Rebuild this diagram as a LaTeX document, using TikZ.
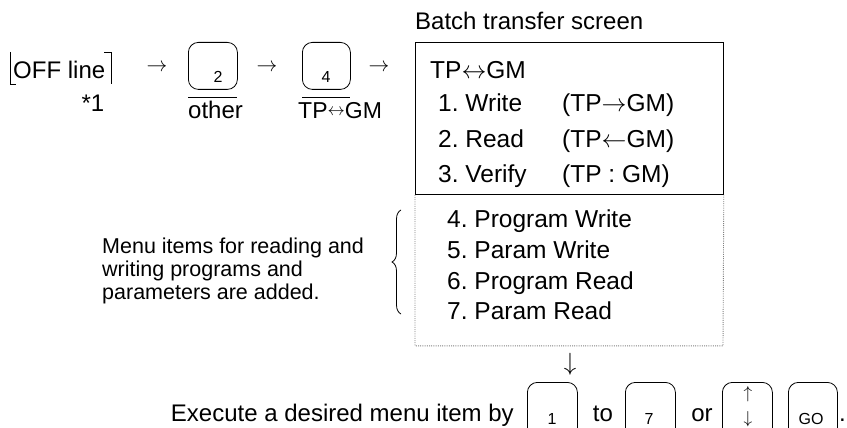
\documentclass[tikz,border=0pt]{standalone}
\usepackage{fontspec}
\setmainfont{Liberation Sans}
\usetikzlibrary{decorations.pathreplacing}
\newcommand{\smlr}{\raisebox{2.5pt}{\fontsize{16}{16}\selectfont$\leftrightarrow$}}
\begin{document}
\frenchspacing
\begin{tikzpicture}[x=1pt,y=-1pt,
  txt/.style={font=\fontsize{24}{28}\selectfont, inner sep=0pt},
  boxtxt/.style={font=\fontsize{24.5}{28}\selectfont, inner sep=0pt, anchor=base west},
  desc/.style={font=\fontsize{21.5}{24}\selectfont, inner sep=0pt, anchor=base west},
  keybox/.style={draw, rounded corners=10pt, line width=0.8pt, inner sep=0pt},
  keylbl/.style={font=\fontsize{16}{18}\selectfont, inner sep=0pt},
  glyph/.style={font=\fontsize{22}{26}\selectfont, inner sep=0pt},
  solidline/.style={line width=0.8pt},
  dotline/.style={gray, line width=0.9pt, dash pattern=on 1pt off 1.2pt}]
\useasboundingbox (0,0) rectangle (847,428);
\clip (0,0) rectangle (847,428);

% ---- top row ----
\node[txt, anchor=base west] (off) at (13,78) {OFF line};
\draw[solidline] (10,52) -- (10,84) -- (16,84);
\draw[solidline] (104,52) -- (111,52) -- (111,84);
\node[txt] (star) at (93,103) {*1};

\node[glyph] (a1) at (157,68) {$\rightarrow$};
\node[keybox, anchor=north west, minimum width=49pt, minimum height=47pt] (k2) at (188,42) {};
\node[keylbl] (k2l) at (218,77) {2};
\draw[solidline] (188,97) coordinate (o2a) -- (237,97) coordinate (o2b);
\node[txt, anchor=base west] (other) at (188,118) {other};

\node[glyph] (a2) at (267,68) {$\rightarrow$};
\node[keybox, anchor=north west, minimum width=48pt, minimum height=47pt] (k4) at (302,42) {};
\node[keylbl] (k4l) at (326,77) {4};
\draw[solidline] (302,97) coordinate (o4a) -- (350,97) coordinate (o4b);
\node[font=\fontsize{23}{27}\selectfont, inner sep=0pt, anchor=base west] (tpgm) at (298,118) {TP\smlr GM};

\node[glyph] (a3) at (379,68) {$\rightarrow$};

% ---- screen box ----
\node[txt, anchor=base west] (title) at (415,30) {Batch transfer screen};
\node[draw, solidline, anchor=north west, minimum width=308pt, minimum height=152pt, inner sep=0pt] (scr) at (415,42) {};
\draw[dotline] (scr.south west) -- ++(0,151) coordinate (dbl) -- ++(308,0) coordinate (dbr) -- (scr.south east);

\node[boxtxt] (h) at (430,78) {TP$\leftrightarrow$GM};
\node[boxtxt] (m1) at (438,112) {1. Write};
\node[boxtxt] (m1b) at (562,112) {(TP$\rightarrow$GM)};
\node[boxtxt] (m2) at (438,147) {2. Read};
\node[boxtxt] (m2b) at (562,147) {(TP$\leftarrow$GM)};
\node[boxtxt] (m3) at (438,182) {3. Verify};
\node[boxtxt] (m3b) at (562,182) {(TP : GM)};

\node[boxtxt] (m4) at (447,227) {4. Program Write};
\node[boxtxt] (m5) at (447,258) {5. Param Write};
\node[boxtxt] (m6) at (447,289) {6. Program Read};
\node[boxtxt] (m7) at (447,319) {7. Param Read};

% ---- description + brace ----
\node[desc] (d1) at (102,253) {Menu items for reading and};
\node[desc] (d2) at (102,276) {writing programs and};
\node[desc] (d3) at (102,299) {parameters are added.};
\coordinate (bt) at (401,210);
\coordinate (bb) at (401,314);
\draw[solidline, decorate, decoration={brace, amplitude=9pt}] (bb) -- (bt);

% ---- bottom line ----
\node[font=\fontsize{28}{30}\selectfont, inner sep=0pt] (down) at (570,364) {$\downarrow$};
\node[txt, anchor=base east] (exec) at (514,421) {Execute a desired menu item by};
\node[keybox, anchor=north west, minimum width=50pt, minimum height=70pt] (k1) at (527,382) {};
\node[keylbl] (k1l) at (552,419) {1};
\node[txt, anchor=base] (to) at (603,421) {to};
\node[keybox, anchor=north west, minimum width=50pt, minimum height=70pt] (k7) at (625,382) {};
\node[keylbl] (k7l) at (649,419) {7};
\node[txt, anchor=base] (or) at (702,421) {or};
\node[keybox, anchor=north west, minimum width=50pt, minimum height=70pt] (kud) at (722,382) {};
\node[keylbl] (ku) at (748,394) {$\uparrow$};
\node[keylbl] (kd) at (748,419) {$\downarrow$};
\node[keybox, anchor=north west, minimum width=49pt, minimum height=70pt] (kgo) at (788,382) {};
\node[keylbl] (kgol) at (811,419) {GO};
\node[txt, anchor=base west] (dot) at (839,421) {.};
\end{tikzpicture}
\end{document}
